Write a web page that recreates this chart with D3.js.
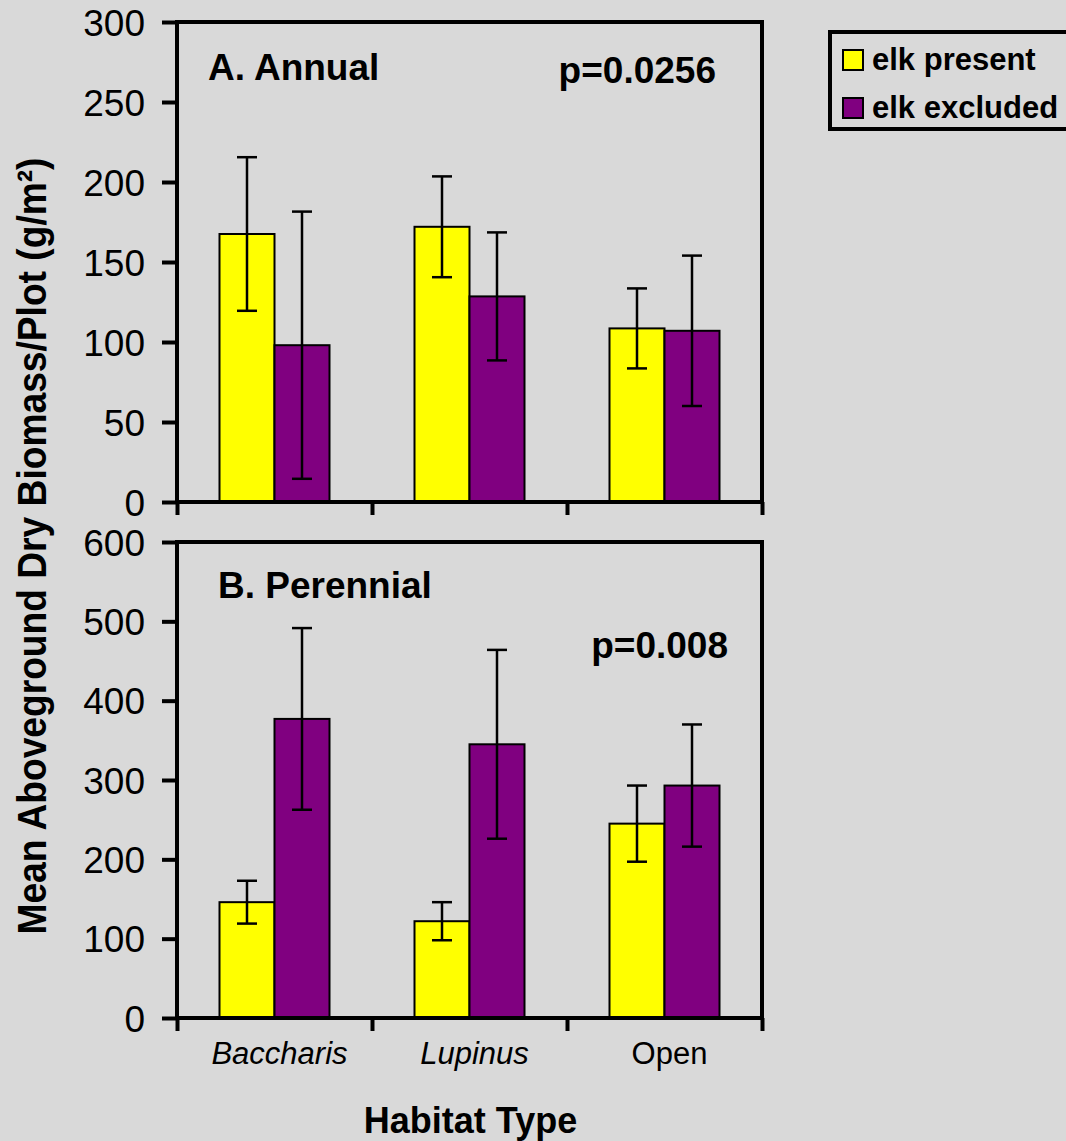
<!DOCTYPE html>
<html>
<head>
<meta charset="utf-8">
<script src="https://cdn.jsdelivr.net/npm/d3@7"></script>
<style>
  html, body { margin: 0; padding: 0; background: #d9d9d9; }
  svg { display: block; font-family: "Liberation Sans", Arial, sans-serif; }
</style>
</head>
<body>
<svg id="chart" width="1066" height="1141"></svg>
<script>
// data
const categories = ["Baccharis", "Lupinus", "Open"];
const seriesNames = ["elk present", "elk excluded"];

const annualPresent = [167.5, 172, 108.5];
const annualPresentErr = [48, 31.5, 25];
const annualExcluded = [98, 128.5, 107];
const annualExcludedErr = [83.5, 40, 47];

const perennialPresent = [146, 122, 245];
const perennialPresentErr = [27, 24, 48];
const perennialExcluded = [377, 345, 293];
const perennialExcludedErr = [114.5, 119, 77];

const annualTicks = [0, 50, 100, 150, 200, 250, 300];
const perennialTicks = [0, 100, 200, 300, 400, 500, 600];

const colors = { "elk present": "#ffff00", "elk excluded": "#800080" };
const italicNames = new Set(["Baccharis", "Lupinus"]);

const svg = d3.select("#chart");
const plotLeft = 177, plotRight = 762;

const x0 = d3.scaleBand().domain(categories).range([plotLeft, plotRight]).padding(0);
const pairW = 110;
const x1 = d3.scaleBand().domain(seriesNames).range([0, pairW]).padding(0);
const xEdges = d3.scaleLinear().domain([0, categories.length]).range([plotLeft, plotRight]);

function panel(opts) {
  const y = d3.scaleLinear().domain([0, d3.max(opts.ticks)]).range([opts.bottom, opts.top]);
  const g = svg.append("g");

  const rows = categories.map((c, i) => ({
    cat: c,
    vals: [
      { s: seriesNames[0], v: opts.present[i], e: opts.presentErr[i] },
      { s: seriesNames[1], v: opts.excluded[i], e: opts.excludedErr[i] }
    ]
  }));

  const groups = g.selectAll(".grp")
    .data(rows)
    .enter()
    .append("g")
    .attr("class", "grp")
    .attr("transform", d => `translate(${x0(d.cat) + (x0.bandwidth() - pairW) / 2},0)`);

  groups.selectAll("rect")
    .data(d => d.vals)
    .enter()
    .append("rect")
    .attr("x", d => x1(d.s))
    .attr("y", d => y(d.v))
    .attr("width", x1.bandwidth())
    .attr("height", d => y(0) - y(d.v))
    .style("fill", d => colors[d.s])
    .style("stroke", "black")
    .style("stroke-width", "2");

  // error bars
  const eb = groups.selectAll(".eb")
    .data(d => d.vals)
    .enter()
    .append("g")
    .attr("class", "eb")
    .style("stroke", "black")
    .style("stroke-width", "2.5");
  const cx = d => x1(d.s) + x1.bandwidth() / 2;
  eb.append("line")
    .attr("x1", cx).attr("x2", cx)
    .attr("y1", d => y(d.v + d.e)).attr("y2", d => y(d.v - d.e));
  eb.append("line")
    .attr("x1", d => cx(d) - 10).attr("x2", d => cx(d) + 10)
    .attr("y1", d => y(d.v + d.e)).attr("y2", d => y(d.v + d.e));
  eb.append("line")
    .attr("x1", d => cx(d) - 10).attr("x2", d => cx(d) + 10)
    .attr("y1", d => y(d.v - d.e)).attr("y2", d => y(d.v - d.e));

  // frame
  g.append("rect")
    .attr("x", plotLeft)
    .attr("y", opts.top)
    .attr("width", plotRight - plotLeft)
    .attr("height", opts.bottom - opts.top)
    .style("fill", "none")
    .style("stroke", "black")
    .style("stroke-width", "4");

  const yAxis = g.append("g")
    .attr("transform", `translate(${plotLeft},0)`)
    .call(d3.axisLeft(y).tickValues(opts.ticks).tickSize(15).tickPadding(17).tickSizeOuter(0));
  yAxis.select(".domain").remove();
  yAxis.selectAll(".tick line").style("stroke-width", "4");
  yAxis.selectAll(".tick text")
    .style("font-size", "37px")
    .style("fill", "black")
    .attr("dy", "0.36em");

  const xAxis = g.append("g")
    .attr("transform", `translate(0,${opts.bottom})`)
    .call(d3.axisBottom(xEdges).ticks(categories.length).tickSize(13).tickFormat(""));
  xAxis.select(".domain").remove();
  xAxis.selectAll(".tick line").style("stroke-width", "4");

  g.append("text")
    .attr("x", opts.titleX)
    .attr("y", opts.titleY)
    .style("font-size", "37px")
    .style("font-weight", "bold")
    .text(opts.title);

  g.append("text")
    .attr("x", opts.pX)
    .attr("y", opts.pY)
    .attr("text-anchor", "end")
    .style("font-size", "37px")
    .style("font-weight", "bold")
    .text(opts.pText);

  return y;
}

panel({
  top: 22, bottom: 502, ticks: annualTicks,
  present: annualPresent, presentErr: annualPresentErr,
  excluded: annualExcluded, excludedErr: annualExcludedErr,
  title: "A. Annual", titleX: 208, titleY: 80,
  pText: "p=0.0256", pX: 716, pY: 83
});

panel({
  top: 542, bottom: 1018, ticks: perennialTicks,
  present: perennialPresent, presentErr: perennialPresentErr,
  excluded: perennialExcluded, excludedErr: perennialExcludedErr,
  title: "B. Perennial", titleX: 218, titleY: 598,
  pText: "p=0.008", pX: 728, pY: 658
});

// category labels
svg.append("g")
  .selectAll("text")
  .data(categories)
  .enter()
  .append("text")
  .attr("x", d => x0(d) + x0.bandwidth() / 2 + 5)
  .attr("y", 1064)
  .attr("text-anchor", "middle")
  .style("font-size", "31px")
  .style("font-style", d => italicNames.has(d) ? "italic" : "normal")
  .text(d => d);

svg.append("text")
  .attr("x", (plotLeft + plotRight) / 2 + 1)
  .attr("y", 1133)
  .attr("text-anchor", "middle")
  .style("font-size", "36px")
  .style("font-weight", "bold")
  .text("Habitat Type");

svg.append("text")
  .attr("transform", "translate(46,546) rotate(-90)")
  .attr("text-anchor", "middle")
  .attr("textLength", 777)
  .attr("lengthAdjust", "spacingAndGlyphs")
  .style("font-size", "40px")
  .style("font-weight", "bold")
  .text("Mean Aboveground Dry Biomass/Plot (g/m\u00b2)");

// legend
const legend = svg.append("g");
legend.append("rect")
  .attr("x", 830).attr("y", 32)
  .attr("width", 260).attr("height", 97)
  .style("fill", "none")
  .style("stroke", "black")
  .style("stroke-width", "4");

const li = legend.selectAll(".li")
  .data(seriesNames)
  .enter()
  .append("g")
  .attr("class", "li")
  .attr("transform", (d, i) => `translate(843,${50 + i * 48})`);
li.append("rect")
  .attr("width", 20).attr("height", 20)
  .style("fill", d => colors[d])
  .style("stroke", "black")
  .style("stroke-width", "2");
li.append("text")
  .attr("x", 29).attr("y", 20)
  .style("font-size", "31px")
  .style("font-weight", "bold")
  .text(d => d);
</script>
</body>
</html>
